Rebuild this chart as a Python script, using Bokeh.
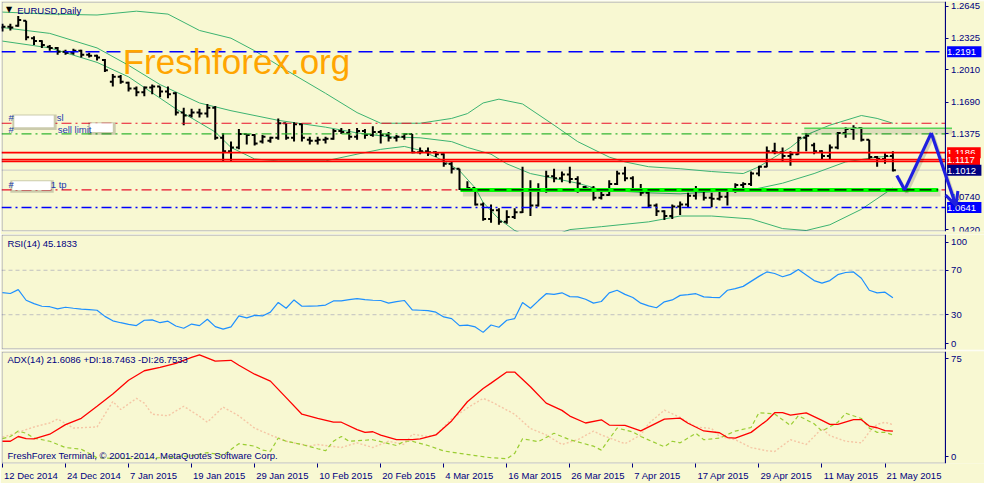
from bokeh.plotting import figure
from bokeh.models import (Range1d, FixedTicker, PrintfTickFormatter, Label,
                          Arrow, OpenHead, BoxAnnotation)
from bokeh.layouts import column
from bokeh.embed import file_html
from bokeh.resources import INLINE

BG = "#F8F8D2"
NAVY = "#000080"
FONT = "Liberation Sans"

# ---------------- data (EURUSD daily, 12 Dec 2014 .. 22 May 2015) ----------------
opens = [1.2432, 1.2441, 1.2450, 1.2499, 1.2326, 1.2297, 1.2240, 1.2229, 1.2191, 1.2181,
         1.2201, 1.2162, 1.2152, 1.2110, 1.1893, 1.1941, 1.1883, 1.1825, 1.1787, 1.1835,
         1.1845, 1.1796, 1.1777, 1.1585, 1.1556, 1.1585, 1.1575, 1.1633, 1.1334, 1.1200,
         1.1238, 1.1373, 1.1363, 1.1296, 1.1305, 1.1334, 1.1479, 1.1334, 1.1469, 1.1315,
         1.1305, 1.1315, 1.1325, 1.1402, 1.1383, 1.1344, 1.1402, 1.1363, 1.1392, 1.1363,
         1.1334, 1.1344, 1.1373, 1.1190, 1.1200, 1.1190, 1.1171, 1.1075, 1.1026, 1.0825,
         1.0834, 1.0670, 1.0526, 1.0613, 1.0497, 1.0545, 1.0593, 1.0815, 1.0660, 1.0815,
         1.0950, 1.0930, 1.0969, 1.0925, 1.0845, 1.0830, 1.0738, 1.0765, 1.0873, 1.0978,
         1.0930, 1.0825, 1.0786, 1.0661, 1.0603, 1.0555, 1.0651, 1.0670, 1.0757, 1.0815,
         1.0738, 1.0728, 1.0747, 1.0825, 1.0863, 1.0873, 1.0978, 1.1046, 1.1200, 1.1190,
         1.1152, 1.1171, 1.1334, 1.1260, 1.1200, 1.1152, 1.1238, 1.1383, 1.1421, 1.1431,
         1.1315, 1.1142, 1.1123, 1.1152]
highs = [1.2470, 1.2470, 1.2547, 1.2499, 1.2345, 1.2306, 1.2258, 1.2239, 1.2210, 1.2220,
         1.2210, 1.2181, 1.2162, 1.2120, 1.1970, 1.1960, 1.1893, 1.1845, 1.1845, 1.1864,
         1.1845, 1.1845, 1.1787, 1.1633, 1.1623, 1.1623, 1.1671, 1.1652, 1.1383, 1.1296,
         1.1421, 1.1373, 1.1373, 1.1363, 1.1344, 1.1527, 1.1479, 1.1488, 1.1479, 1.1344,
         1.1344, 1.1344, 1.1421, 1.1431, 1.1421, 1.1431, 1.1421, 1.1450, 1.1411, 1.1392,
         1.1363, 1.1383, 1.1373, 1.1238, 1.1238, 1.1200, 1.1181, 1.1104, 1.1026, 1.0902,
         1.0834, 1.0690, 1.0670, 1.0632, 1.0613, 1.0632, 1.1046, 1.0911, 1.0882, 1.1007,
         1.1026, 1.0998, 1.1046, 1.0950, 1.0853, 1.0853, 1.0815, 1.0911, 1.1007, 1.1046,
         1.0950, 1.0873, 1.0796, 1.0680, 1.0613, 1.0670, 1.0699, 1.0786, 1.0853, 1.0825,
         1.0786, 1.0805, 1.0834, 1.0882, 1.0892, 1.0998, 1.1055, 1.1248, 1.1286, 1.1238,
         1.1200, 1.1344, 1.1383, 1.1286, 1.1210, 1.1267, 1.1392, 1.1440, 1.1460, 1.1440,
         1.1315, 1.1152, 1.1181, 1.1200]
lows = [1.2393, 1.2403, 1.2441, 1.2306, 1.2258, 1.2229, 1.2201, 1.2162, 1.2162, 1.2162,
        1.2133, 1.2133, 1.2104, 1.1989, 1.1845, 1.1873, 1.1796, 1.1748, 1.1748, 1.1768,
        1.1739, 1.1729, 1.1556, 1.1460, 1.1537, 1.1537, 1.1537, 1.1315, 1.1104, 1.1094,
        1.1219, 1.1267, 1.1258, 1.1277, 1.1286, 1.1315, 1.1315, 1.1296, 1.1296, 1.1267,
        1.1267, 1.1277, 1.1315, 1.1373, 1.1315, 1.1315, 1.1325, 1.1344, 1.1277, 1.1296,
        1.1296, 1.1315, 1.1181, 1.1171, 1.1152, 1.1142, 1.1046, 1.0978, 1.0815, 1.0815,
        1.0661, 1.0507, 1.0487, 1.0468, 1.0478, 1.0526, 1.0584, 1.0555, 1.0651, 1.0786,
        1.0892, 1.0892, 1.0882, 1.0786, 1.0796, 1.0709, 1.0719, 1.0757, 1.0863, 1.0902,
        1.0815, 1.0757, 1.0642, 1.0555, 1.0516, 1.0526, 1.0565, 1.0642, 1.0719, 1.0709,
        1.0642, 1.0709, 1.0661, 1.0786, 1.0815, 1.0853, 1.0950, 1.1040, 1.1171, 1.1104,
        1.1055, 1.1165, 1.1200, 1.1171, 1.1123, 1.1123, 1.1219, 1.1334, 1.1315, 1.1296,
        1.1123, 1.1046, 1.1075, 1.0998]
closes = [1.2441, 1.2432, 1.2508, 1.2335, 1.2297, 1.2258, 1.2229, 1.2191, 1.2181, 1.2201,
          1.2162, 1.2152, 1.2133, 1.2008, 1.1941, 1.1893, 1.1825, 1.1787, 1.1835, 1.1845,
          1.1796, 1.1768, 1.1585, 1.1556, 1.1585, 1.1575, 1.1633, 1.1334, 1.1200, 1.1238,
          1.1373, 1.1363, 1.1277, 1.1344, 1.1334, 1.1479, 1.1334, 1.1469, 1.1334, 1.1305,
          1.1315, 1.1325, 1.1402, 1.1392, 1.1344, 1.1402, 1.1363, 1.1392, 1.1363, 1.1334,
          1.1344, 1.1373, 1.1190, 1.1200, 1.1190, 1.1171, 1.1075, 1.1026, 1.0825, 1.0834,
          1.0670, 1.0526, 1.0613, 1.0497, 1.0545, 1.0593, 1.0815, 1.0660, 1.0815, 1.0950,
          1.0930, 1.0969, 1.0925, 1.0880, 1.0830, 1.0738, 1.0765, 1.0873, 1.0978, 1.0930,
          1.0825, 1.0786, 1.0661, 1.0603, 1.0555, 1.0651, 1.0670, 1.0757, 1.0815, 1.0738,
          1.0728, 1.0747, 1.0825, 1.0863, 1.0873, 1.0978, 1.1046, 1.1200, 1.1190, 1.1152,
          1.1171, 1.1334, 1.1354, 1.1200, 1.1152, 1.1238, 1.1383, 1.1421, 1.1431, 1.1315,
          1.1142, 1.1123, 1.1152, 1.1012]

# Bollinger bands (read at sample bars)
bb_up_x = [0, 6, 12, 17, 21, 25, 29, 32, 36, 41, 45, 48, 53, 57, 59, 61, 63, 66, 70, 73,
           77, 79, 82, 86, 90, 94, 96, 98, 100, 102, 105, 109, 111, 113]
bb_up = [1.2586, 1.2566, 1.2557, 1.2595, 1.2566, 1.2403, 1.2326, 1.2201, 1.2008, 1.1777,
         1.1585, 1.1479, 1.1479, 1.1527, 1.1575, 1.1681, 1.1719, 1.1671, 1.1460, 1.1296,
         1.1142, 1.1094, 1.1046, 1.1026, 1.0998, 1.0978, 1.1046, 1.1142, 1.1238, 1.1363,
         1.1460, 1.1556, 1.1527, 1.1479]
bb_mid_x = [0, 6, 12, 16, 20, 25, 29, 35, 41, 45, 49, 53, 57, 59, 62, 64, 67, 70, 73, 76,
            82, 86, 90, 95, 99, 103, 107, 111, 113]
bb_mid = [1.2432, 1.2374, 1.2229, 1.2056, 1.1864, 1.1681, 1.1604, 1.1508, 1.1440, 1.1383,
          1.1344, 1.1334, 1.1296, 1.1238, 1.1171, 1.1075, 1.0978, 1.0930, 1.0882, 1.0815,
          1.0786, 1.0776, 1.0796, 1.0815, 1.0882, 1.0978, 1.1094, 1.1142, 1.1152]
bb_lo_x = [0, 6, 12, 16, 22, 27, 29, 32, 35, 41, 45, 48, 51, 53, 55, 56, 58, 60, 61, 63,
           65, 67, 69, 72, 76, 82, 86, 90, 95, 99, 102, 105, 109, 113]
bb_lo = [1.2297, 1.2229, 1.2085, 1.1941, 1.1623, 1.1392, 1.1238, 1.1123, 1.1104, 1.1104,
         1.1171, 1.1219, 1.1248, 1.1210, 1.1142, 1.1104, 1.1007, 1.0834, 1.0690, 1.0526,
         1.0411, 1.0343, 1.0334, 1.0420, 1.0449, 1.0497, 1.0555, 1.0555, 1.0526, 1.0430,
         1.0411, 1.0468, 1.0622, 1.0834]

rsi = [49.8, 49.1, 52.6, 43.0, 40.0, 37.6, 37.2, 35.2, 36.7, 35.8,
       35.0, 34.5, 34.0, 28.5, 24.5, 22.8, 21.3, 20.2, 25.0, 25.4,
       22.8, 24.2, 19.8, 17.8, 21.6, 20.2, 25.9, 19.3, 17.0, 19.0,
       28.9, 27.1, 29.4, 28.9, 32.3, 41.0, 35.8, 43.3, 37.6, 37.8,
       38.0, 38.7, 42.4, 42.4, 43.6, 44.5, 43.5, 43.0, 42.8, 40.4,
       41.8, 42.8, 34.3, 34.0, 33.7, 32.3, 28.0, 26.5, 20.2, 20.7,
       19.0, 14.1, 20.7, 18.7, 25.0, 26.5, 41.0, 35.8, 42.5, 48.9,
       48.3, 49.7, 46.3, 46.0, 43.9, 40.4, 41.9, 49.7, 52.0, 48.3,
       45.5, 40.4, 38.0, 36.3, 41.6, 43.3, 47.4, 48.0, 48.9, 46.0,
       45.6, 45.4, 52.0, 53.5, 55.5, 60.0, 64.5, 68.5, 67.1, 64.2,
       66.3, 70.6, 65.7, 60.7, 58.4, 60.7, 66.0, 68.0, 68.5, 62.8,
       52.0, 49.7, 50.3, 45.18]

adx_x = [0, 1, 2, 3, 4, 6, 8, 10, 12, 14, 16, 18, 20, 22, 24, 25, 27, 29, 30, 32, 34, 36,
         38, 40, 42, 43, 45, 46, 47, 48, 50, 52, 53, 55, 57, 59, 61, 62, 64, 65, 67, 69,
         71, 72, 74, 76, 77, 79, 81, 84, 86, 87, 89, 91, 92, 93, 95, 97, 98, 99, 100, 102,
         104, 105, 106, 108, 109, 110, 111, 112, 113]
adx = [13.8, 13.8, 17.5, 15.8, 15.6, 19.3, 26.7, 31.6, 41.0, 50.5, 61.2, 68.6, 71.2, 74.3,
       79.0, 81.0, 76.0, 76.7, 72.9, 65.9, 60.5, 47.7, 34.8, 31.6, 28.6, 28.6, 22.9, 20.7,
       21.2, 18.5, 15.0, 15.0, 15.6, 18.7, 29.6, 44.5, 54.8, 59.0, 67.6, 67.6, 56.2, 43.4,
       37.8, 33.4, 28.0, 30.5, 26.4, 26.1, 21.9, 31.0, 31.8, 27.8, 21.8, 20.4, 16.7, 16.3,
       20.7, 30.0, 36.0, 36.0, 34.1, 35.9, 30.0, 26.9, 26.9, 30.6, 30.6, 25.6, 24.3, 22.0,
       21.61]
pdi_x = [0, 1, 2, 3, 4, 6, 8, 10, 12, 14, 18, 22, 24, 26, 28, 30, 32, 33, 34, 35, 36, 38,
         40, 41, 42, 43, 44, 47, 50, 51, 52, 54, 56, 58, 60, 62, 64, 65, 66, 68, 70, 72,
         75, 76, 78, 80, 81, 84, 85, 86, 88, 89, 91, 93, 95, 96, 98, 100, 101, 103, 104,
         106, 107, 109, 110, 111, 112, 113]
pdi = [15.8, 17.5, 21.7, 20.0, 16.3, 13.8, 8.9, 7.6, 1.0, 0.5, 0.5, 1.5, 2.5, 5.0, 3.0,
       11.9, 10.0, 6.9, 6.0, 16.3, 13.8, 11.3, 8.0, 6.4, 13.8, 17.5, 13.8, 15.0, 10.5, 13.8,
       13.8, 10.5, 6.3, 4.4, 2.7, 1.0, 0.2, 4.4, 15.8, 13.5, 20.0, 15.0, 10.0, 6.9, 24.1,
       21.0, 17.5, 9.5, 13.8, 12.6, 20.0, 15.0, 16.3, 21.7, 24.5, 36.0, 35.0, 26.1, 33.6,
       27.4, 21.7, 28.5, 35.6, 31.5, 24.0, 20.7, 20.7, 18.75]
mdi_x = [0, 1, 4, 5, 6, 7, 9, 12, 14, 15, 17, 18, 19, 21, 23, 25, 26, 28, 30, 32, 34, 36,
         39, 40, 43, 45, 47, 49, 51, 52, 54, 55, 57, 59, 61, 62, 65, 67, 69, 71, 73, 75,
         76, 79, 81, 82, 84, 86, 88, 90, 91, 93, 95, 97, 98, 100, 102, 104, 105, 107, 109,
         110, 111, 112, 113]
mdi = [17.0, 18.7, 24.9, 26.5, 28.0, 31.1, 24.1, 24.9, 44.7, 38.5, 47.1, 43.4, 34.8, 33.6,
       41.0, 33.2, 28.6, 40.4, 33.5, 24.0, 18.7, 13.8, 10.1, 11.3, 8.9, 12.6, 8.9, 13.8,
       11.3, 19.3, 17.5, 18.7, 31.1, 39.7, 47.1, 44.6, 34.8, 23.7, 18.7, 11.3, 15.0, 21.7,
       18.7, 11.9, 18.7, 27.5, 38.0, 32.3, 24.9, 23.7, 17.5, 15.0, 8.9, 6.4, 5.9, 15.0,
       11.3, 23.7, 18.2, 13.8, 12.6, 21.0, 27.0, 28.5, 26.75]

date_ticks = [0, 8, 16, 24, 32, 40, 48, 56, 64, 72, 80, 88, 96, 104, 112]
date_labels = ["12 Dec 2014", "24 Dec 2014", "7 Jan 2015", "19 Jan 2015", "29 Jan 2015",
               "10 Feb 2015", "20 Feb 2015", "4 Mar 2015", "16 Mar 2015", "26 Mar 2015",
               "7 Apr 2015", "17 Apr 2015", "29 Apr 2015", "11 May 2015", "21 May 2015"]
price_ticks = [1.2645, 1.2325, 1.2010, 1.1690, 1.1375, 1.0740, 1.0420]
rsi_tick_labels = ["100", "70", "30", "0"]
adx_tick_labels = ["75", "0"]

# chart objects (price levels)
lvl_blue = 1.2191
lvl_sl = 1.1479
lvl_limit = 1.1373
lvl_red = [1.1186, 1.1117, 1.1098]
lvl_bid = 1.1012
lvl_tp = 1.0815
lvl_sup = 1.0641
lvl_top = 1.1428

# ------------- helpers: reference-pixel -> data (for annotation placement) -------------
def bx(px):
    return (px - 3.0) / 8.0

def py(px):
    return 1.2191 - (px - 54.0) * 0.0009624

def ry(px):
    return (360.5 - px) / 1.15

def ay(px):
    return (477.3 - px) / 1.35

W = 984
xr = Range1d(bx(2), bx(1000))
XAX = bx(960)           # location of the price scale line
FRAME_W = W - 1
PX_PER_BAR = FRAME_W / (xr.end - xr.start)


def make_fig(height, yr, top, bottom, xaxis):
    p = figure(width=W, height=height, x_range=xr, y_range=yr,
               x_axis_location="below" if xaxis else None, y_axis_location="right",
               toolbar_location=None, output_backend="svg",
               min_border_left=1, min_border_right=0, min_border_top=top,
               min_border_bottom=bottom, background_fill_color=BG, border_fill_color=BG,
               outline_line_color=None)
    p.grid.visible = False
    ax = p.yaxis[0]
    ax.fixed_location = XAX
    ax.axis_line_color = NAVY
    ax.major_tick_line_color = NAVY
    ax.minor_tick_line_color = None
    ax.major_tick_out = 3
    ax.major_tick_in = 0
    ax.major_label_standoff = 3
    ax.major_label_text_font = FONT
    ax.major_label_text_font_size = "9.5px"
    ax.major_label_text_color = NAVY
    return p


def border(p, yb, yt):
    p.add_layout(BoxAnnotation(left=bx(2.6), right=XAX, bottom=yb, top=yt,
                               fill_alpha=0, line_color=NAVY, line_width=1))


def hline(p, y, **kw):
    p.segment(x0=xr.start, y0=y, x1=XAX, y1=y, **kw)


def txt(p, x, y, text, color=NAVY, size="9.5px", font=FONT, baseline="middle", **kw):
    p.add_layout(Label(x=x, y=y, text=text, text_color=color, text_font=font,
                       text_font_size=size, text_baseline=baseline, text_align="left", **kw))

# ---------------- price panel ----------------
p1 = make_fig(234, Range1d(py(240), py(2)), 1, 3, False)
p1.yaxis[0].ticker = FixedTicker(ticks=price_ticks)
p1.yaxis[0].formatter = PrintfTickFormatter(format="%.4f")

idx = list(range(len(closes)))
tk = 3.0 / 8.0
hline(p1, lvl_bid, line_color="#C8C8C8", line_width=1)
p1.line(bb_up_x, bb_up, color="#3CB371", line_width=1)
p1.line(bb_mid_x, bb_mid, color="#3CB371", line_width=1)
p1.line(bb_lo_x, bb_lo, color="#3CB371", line_width=1)

p1.segment(idx, lows, idx, highs, color="black", line_width=2)
p1.segment([i - tk for i in idx], opens, idx, opens, color="black", line_width=2)
p1.segment(idx, closes, [i + tk for i in idx], closes, color="black", line_width=2)

hline(p1, lvl_blue, line_color="#0000FF", line_width=1.5, line_dash="14 7")
hline(p1, lvl_sl, line_color="#E8102A", line_width=1.2, line_dash="10 4 2 4")
hline(p1, lvl_limit, line_color="#33B533", line_width=1.2, line_dash="10 4 2 4")
for lv in lvl_red:
    hline(p1, lv, line_color="#FF0000", line_width=1.6)
hline(p1, lvl_tp, line_color="#E8102A", line_width=1.2, line_dash="10 4 2 4")
hline(p1, lvl_sup, line_color="#0000FF", line_width=1.5, line_dash="10 4 2 4")

# drawn support line (green) with soft shadow and black dashes on it
g0, g1 = bx(468), bx(953)
p1.line([g0 + 0.3, g1 + 0.3], [lvl_tp - 0.0030] * 2, color="black", alpha=0.12, line_width=7)
p1.line([g0, g1], [lvl_tp] * 2, color="#00FF00", line_width=4)
p1.line([g0, g1], [lvl_tp] * 2, color="black", line_width=1.3, line_dash="12 5")
# upper drawn line
t0, t1 = bx(817), bx(967)
p1.line([t0, t1], [lvl_top - 0.0030] * 2, color="black", alpha=0.10, line_width=6)
p1.line([t0, t1], [lvl_top] * 2, color="#55D455", line_width=1.5)

border(p1, py(239.4), py(2.6))

# watermark & captions
txt(p1, bx(125), py(64), "Freshforex.org", color="#FFA500", size="35px")
txt(p1, bx(6.5), py(10.5), "\u25BC", color="black", size="8px", font="DejaVu Sans")
txt(p1, bx(18), py(11), "EURUSD,Daily")

for (l, r, t, b) in [(15, 55, 120, 132), (92, 115, 128, 137), (13, 52, 188, 197)]:
    p1.add_layout(BoxAnnotation(left=bx(l - 2), right=bx(r + 3), top=py(t - 1), bottom=py(b + 3),
                                fill_color="black", fill_alpha=0.18, line_color=None))
    p1.add_layout(BoxAnnotation(left=bx(l), right=bx(r), top=py(t), bottom=py(b),
                                fill_color="white", fill_alpha=1.0, line_color=None))
LBL = "#2038B0"
txt(p1, bx(9), py(122.5), "#", color=LBL)
txt(p1, bx(58), py(122.5), "sl", color=LBL)
txt(p1, bx(9), py(134), "#", color=LBL)
txt(p1, bx(59), py(134), "sell limit", color=LBL)
txt(p1, bx(9), py(191.5), "#", color=LBL)
txt(p1, bx(52), py(191.5), "1 tp", color=LBL)

# price boxes on the right scale
for price, text, col in [(1.2191, "1.2191", "#0000FF"), (1.1186, "1.1186", "#FF0000"),
                         (1.1117, "1.1117", "#FF0000"), (1.1012, "1.1012", "#000080"),
                         (1.0641, "1.0641", "#0000FF")]:
    p1.add_layout(Label(x=bx(962), y=price, text=" " + text + " ", text_color="white",
                        text_font=FONT, text_font_size="9.5px", text_baseline="middle",
                        text_align="left", background_fill_color=col))

# forecast arrow (with soft shadow)
ARW = "#1F1FE0"
path = [(911, 182), (919, 197), (946, 138), (971, 213)]
for dx, dy, colr, alpha in [(2, 3, "black", 0.15), (0, 0, ARW, 1.0)]:
    for k in range(len(path) - 1):
        (xa, ya), (xb, yb) = path[k], path[k + 1]
        head = (OpenHead(size=13, line_color=colr, line_alpha=alpha, line_width=3)
                if k == len(path) - 2 else None)
        p1.add_layout(Arrow(x_start=bx(xa + dx), y_start=py(ya + dy), x_end=bx(xb + dx),
                            y_end=py(yb + dy), end=head, line_color=colr, line_alpha=alpha,
                            line_width=3.2))

# ---------------- RSI panel ----------------
p2 = make_fig(116, Range1d(ry(362), ry(243)), 0, 1, False)
rsi_tick_pos = [ry(251), 70, 30, ry(356)]
p2.yaxis[0].ticker = FixedTicker(ticks=rsi_tick_pos)
p2.yaxis[0].major_label_overrides = {t: l for t, l in zip(rsi_tick_pos, rsi_tick_labels)}
for lv in (30, 70):
    hline(p2, lv, line_color="#C0C0C0", line_width=1, line_dash="4 3")
p2.line(idx, rsi, color="#1E90FF", line_width=1.2)
border(p2, ry(361.4), ry(243.6))
txt(p2, bx(8), ry(252), "RSI(14) 45.1833")

# ---------------- ADX panel ----------------
p3 = make_fig(133, Range1d(ay(482), ay(364.5)), 1, 19, True)
adx_tick_pos = [ay(372), ay(475)]
p3.yaxis[0].ticker = FixedTicker(ticks=adx_tick_pos)
p3.yaxis[0].major_label_overrides = {t: l for t, l in zip(adx_tick_pos, adx_tick_labels)}
p3.line(mdi_x, mdi, color="#F5C6A5", line_width=1.4, line_dash="2 2")
p3.line(pdi_x, pdi, color="#9ACD32", line_width=1.2, line_dash="4 3")
p3.line(adx_x, adx, color="#FF0000", line_width=1.3)
border(p3, ay(481.6), ay(365.1))
txt(p3, bx(8), ay(373), "ADX(14) 21.6086 +DI:18.7463 -DI:26.7533")
txt(p3, bx(8), ay(474), "FreshForex Terminal, \u00A9 2001-2014, MetaQuotes Software Corp.")

# bottom date axis: tick marks (minor ticks) at the bars, each label starting right of it
EM = {" ": 0.278, "D": 0.722, "J": 0.5, "F": 0.611, "M": 0.833, "A": 0.667, "c": 0.5,
      "r": 0.333, "y": 0.5, "e": 0.556, "a": 0.556, "n": 0.556, "b": 0.556, "p": 0.556}
FS = 9.5
centers = []
for t, lab in zip(date_ticks, date_labels):
    wpx = sum(EM.get(ch, 0.556) for ch in lab) * FS
    centers.append(round(t + (wpx / 2 + 1.5) / PX_PER_BAR, 3))

xa = p3.xaxis[0]
xa.ticker = FixedTicker(ticks=centers, minor_ticks=date_ticks)
xa.major_label_overrides = {c: l for c, l in zip(centers, date_labels)}
xa.axis_line_color = None
xa.major_tick_line_color = None
xa.minor_tick_line_color = NAVY
xa.major_tick_out = 4
xa.major_tick_in = 0
xa.minor_tick_out = 4
xa.minor_tick_in = 0
xa.major_label_standoff = 2
xa.major_label_text_font = FONT
xa.major_label_text_font_size = "9.5px"
xa.major_label_text_color = NAVY

layout = column(p1, p2, p3, spacing=0)
open("out.html", "w").write(file_html(layout, INLINE))
